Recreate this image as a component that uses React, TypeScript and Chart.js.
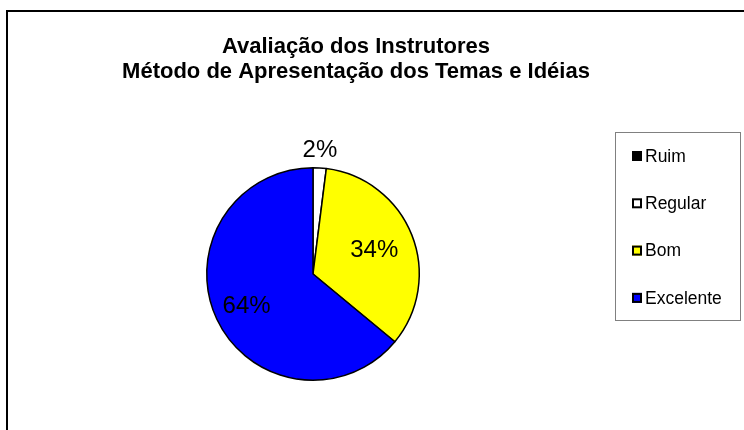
import React, { useEffect, useRef } from "react";
import { Chart, registerables } from "chart.js";

Chart.register(...registerables);

const titleLines = ["Avaliação dos Instrutores", "Método de Apresentação dos Temas e Idéias"];
const categories = ["Ruim", "Regular", "Bom", "Excelente"];
const responses = [0, 1, 17, 32];
const sliceColors = ["#000000", "#FFFFFF", "#FFFF00", "#0000FF"];

const FONT = "'Liberation Sans', Arial, sans-serif";

const decorPlugin = {
  id: "decor",
  beforeDraw(chart: any) {
    const ctx = chart.ctx;
    ctx.save();
    ctx.fillStyle = "#FFFFFF";
    ctx.fillRect(0, 0, chart.width, chart.height);
    // outer frame
    ctx.strokeStyle = "#000000";
    ctx.lineWidth = 2;
    ctx.strokeRect(7, 11, 800, 500);
    // title
    ctx.fillStyle = "#000000";
    ctx.font = `bold 22px ${FONT}`;
    ctx.textAlign = "center";
    ctx.textBaseline = "alphabetic";
    titleLines.forEach((line, i) => {
      ctx.fillText(line, 356, 53 + i * 25);
    });
    ctx.restore();
  },
  afterDraw(chart: any) {
    const ctx = chart.ctx;
    const meta = chart.getDatasetMeta(0);
    const ds = chart.data.datasets[0];
    const values: number[] = ds.data as number[];
    const total = values.reduce((a, b) => a + b, 0);
    const radiusFactor = [1.18, 1.18, 0.63, 0.68];
    ctx.save();
    // percentage labels
    ctx.fillStyle = "#000000";
    ctx.font = `24px ${FONT}`;
    ctx.textAlign = "center";
    ctx.textBaseline = "middle";
    meta.data.forEach((arc: any, i: number) => {
      if (!values[i]) return;
      const { x, y, startAngle, endAngle, outerRadius } = arc.getProps(
        ["x", "y", "startAngle", "endAngle", "outerRadius"],
        true
      );
      const mid = (startAngle + endAngle) / 2;
      const r = outerRadius * radiusFactor[i];
      const pct = Math.round((values[i] / total) * 100) + "%";
      ctx.fillText(pct, x + Math.cos(mid) * r - 1, y + Math.sin(mid) * r + 1.5);
    });
    // legend
    ctx.strokeStyle = "#808080";
    ctx.lineWidth = 1;
    ctx.strokeRect(615.5, 132.5, 125, 188);
    ctx.font = `17.5px ${FONT}`;
    ctx.textAlign = "left";
    ctx.textBaseline = "middle";
    chart.data.labels.forEach((label: string, i: number) => {
      const cy = 156 + i * 47.3;
      ctx.fillStyle = (ds.backgroundColor as string[])[i];
      ctx.fillRect(632, cy - 5, 10, 10);
      ctx.strokeStyle = "#000000";
      ctx.lineWidth = 2;
      ctx.strokeRect(633, cy - 4, 8, 8);
      ctx.fillStyle = "#000000";
      ctx.fillText(label, 645, cy + 1);
    });
    ctx.restore();
  },
};

export default function App() {
  const ref = useRef<HTMLCanvasElement>(null);
  useEffect(() => {
    if (!ref.current) return;
    const chart = new Chart(ref.current, {
      type: "pie",
      data: {
        labels: categories,
        datasets: [
          {
            data: responses,
            backgroundColor: sliceColors,
            borderColor: "#000000",
            borderWidth: 1.5,
          },
        ],
      },
      options: {
        responsive: false,
        animation: false,
        layout: { padding: { left: 206, right: 324, top: 167, bottom: 49 } },
        plugins: {
          legend: { display: false },
          title: { display: false },
          tooltip: { enabled: false },
        },
      },
      plugins: [decorPlugin],
    });
    return () => chart.destroy();
  }, []);
  return (
    <div style={{ position: "fixed", left: 0, top: 0, width: 744, height: 430, background: "#fff" }}>
      <canvas ref={ref} width={744} height={430} style={{ display: "block", width: 744, height: 430 }} />
    </div>
  );
}
